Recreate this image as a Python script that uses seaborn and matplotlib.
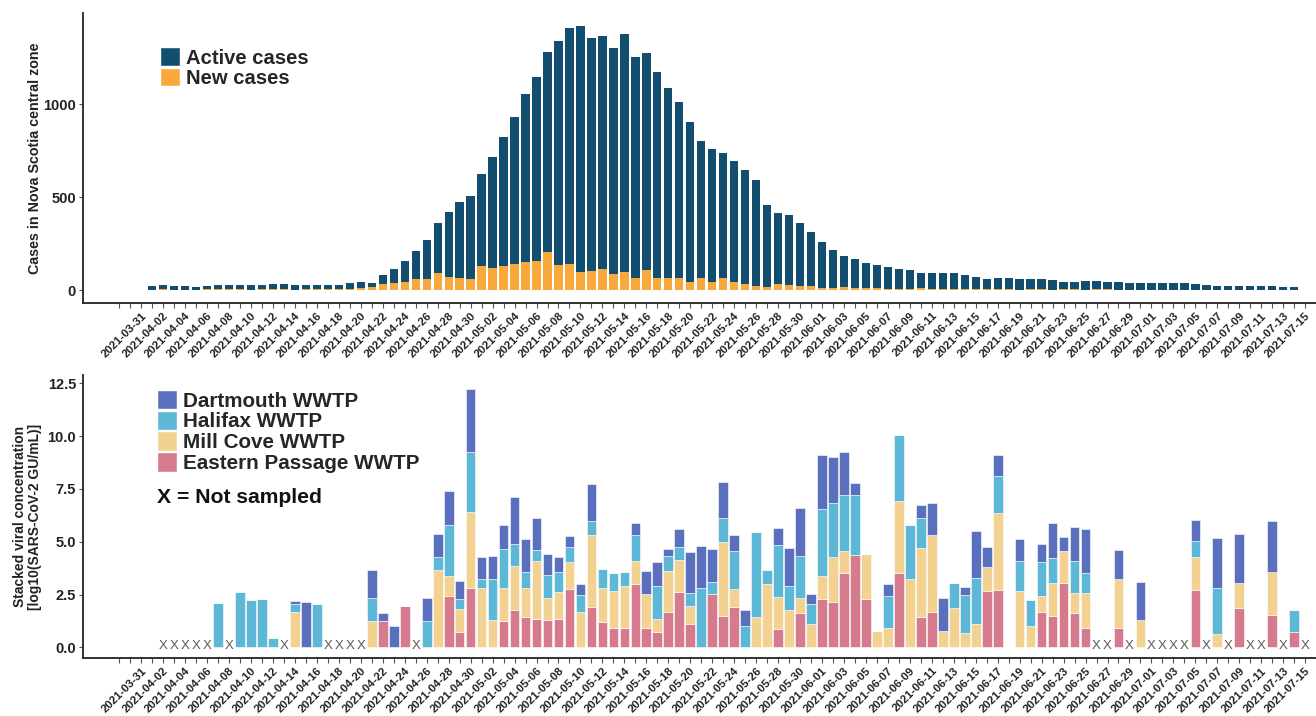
import numpy as np
import pandas as pd
import matplotlib
matplotlib.use("Agg")
import matplotlib.pyplot as plt
from matplotlib.patches import Patch
import seaborn as sns

nan = np.nan
start = pd.Timestamp("2021-03-31")

# ---- top panel: cases, 2021-04-01 .. 2021-07-14
case_dates = pd.date_range("2021-04-01", "2021-07-14")
active_cases = [
    21, 25, 21, 21, 18, 21, 25, 25, 27, 25, 27, 32, 32, 29, 29, 27, 25, 27, 36, 41,
    39, 79, 111, 154, 211, 269, 360, 421, 472, 508,                      # april
    623, 718, 825, 933, 1053, 1145, 1283, 1342, 1408, 1419, 1355, 1369, 1304, 1376,
    1252, 1274, 1173, 1085, 1014, 906, 802, 759, 739, 694, 646, 592, 457, 416, 404,
    359, 314,                                                            # may
    257, 215, 183, 165, 144, 135, 124, 115, 109, 93, 93, 93, 90, 79, 70, 57, 63, 66,
    61, 57, 57, 54, 43, 43, 50, 50, 45, 45, 39, 39,                      # june
    39, 39, 38, 38, 30, 29, 23, 22, 22, 22, 22, 22, 14, 14,              # july
]
new_cases = [
    2, 4, 1, 2, 0, 3, 4, 3, 5, 2, 4, 6, 3, 2, 3, 4, 3, 5, 8, 12,
    14, 32, 36, 45, 57, 57, 93, 72, 63, 57,
    131, 120, 131, 138, 151, 154, 203, 135, 138, 95, 102, 115, 84, 97, 66, 108, 66,
    66, 66, 41, 66, 45, 63, 45, 32, 23, 18, 32, 25, 22, 22,
    9, 13, 14, 11, 9, 10, 8, 7, 6, 9, 5, 4, 6, 3, 4, 6, 3, 5, 2, 4, 3, 2, 3, 5, 2,
    3, 4, 2, 1, 2,
    2, 1, 2, 0, 1, 1, 2, 0, 1, 0, 1, 0, 0, 1,
]

# ---- bottom panel: wastewater, 2021-04-02 .. 2021-07-15 (nan = no bar)
ww_dates = pd.date_range("2021-04-02", "2021-07-15")
eastern_passage = [
    nan, nan, nan, nan, nan, 0, nan, 0, 0, 0, 0, nan, 0, 0, 0, nan, nan, nan, nan,
    0, 1.25, 0, 1.95, nan, 0, 0, 2.41, 0.71, 2.83,
    0, 0, 1.25, 1.79, 1.44, 1.36, 1.28, 1.36, 2.75, 0, 1.90, 1.21, 0.90, 0.90, 3.02,
    0.93, 0.71, 1.70, 2.60, 1.13, 0, 2.52, 1.47, 1.90, 0, 0, 0, 0.87, 0, 1.64, 0,
    2.29, 2.17, 3.50, 4.35, 2.29, 0, 0, 3.50, 0, 1.44, 1.70, 0, 0, 0, 0, 2.68, 2.72,
    nan, 0, 0, 1.70, 1.47, 3.06, 1.62, 0.90, nan, nan, 0.90, nan, 0,
    nan, nan, nan, nan, 2.71, nan, 0, nan, 1.87, nan, nan, 1.55, nan, 0.74, nan,
]
mill_cove = [
    nan, nan, nan, nan, nan, 0, nan, 0, 0, 0, 0, nan, 1.67, 0, 0, nan, nan, nan, nan,
    1.25, 0, 0, 0, nan, 0, 3.68, 0.96, 1.11, 3.56,
    2.83, 1.31, 1.55, 2.04, 1.39, 2.71, 1.08, 1.24, 1.27, 1.67, 3.40, 1.62, 1.78, 2.01,
    1.05, 1.59, 0.65, 1.90, 1.52, 0.82, 0, 0, 3.50, 0.85, 0, 1.44, 2.99, 1.53, 1.75,
    0.68, 1.13,
    1.08, 2.13, 1.07, 0, 2.13, 0.77, 0.90, 3.43, 3.25, 3.25, 3.60, 0.77, 1.87, 0.70,
    1.13, 1.11, 3.63, nan, 2.65, 1.01, 0.71, 1.56, 1.50, 0.94, 1.67, nan, nan, 2.35,
    nan, 1.28,
    nan, nan, nan, nan, 1.55, nan, 0.62, nan, 1.19, nan, nan, 2.01, nan, 0, nan,
]
halifax = [
    nan, nan, nan, nan, nan, 2.10, nan, 2.60, 2.24, 2.29, 0.43, nan, 0.39, 0, 2.06,
    nan, nan, nan, nan, 1.08, 0, 0, 0, nan, 1.25, 0.62, 2.40, 0.46, 2.86,
    0.39, 1.93, 1.86, 1.05, 0.73, 0.54, 1.08, 0.96, 0.71, 0.80, 0.70, 0.88, 0.85, 0.65,
    1.24, 0, 1.55, 0.74, 0.62, 0.62, 2.83, 0.57, 1.16, 1.81, 1.02, 4.02, 0.67, 2.44,
    1.16, 2.01, 0.93,
    3.17, 2.52, 2.63, 2.85, 0, 0, 1.52, 3.12, 2.52, 1.42, 0, 0, 1.19, 1.78, 2.17, 0,
    1.78, nan, 1.45, 1.25, 1.61, 1.19, 0, 1.53, 0.93, nan, nan, 0, nan, 0,
    nan, nan, nan, nan, 0.77, nan, 2.17, nan, 0, nan, nan, 0, nan, 1.05, nan,
]
dartmouth = [
    nan, nan, nan, nan, nan, 0, nan, 0, 0, 0, 0, nan, 0.12, 2.13, 0, nan, nan, nan,
    nan, 1.35, 0.39, 1.02, 0, nan, 1.08, 1.08, 1.65, 0.85, 2.97,
    1.08, 1.10, 1.11, 2.23, 1.56, 1.52, 1.00, 0.71, 0.54, 0.51, 1.75, 0, 0, 0, 0.57,
    1.11, 1.13, 0.31, 0.85, 1.96, 1.96, 1.55, 1.70, 0.74, 0.73, 0, 0, 0.82, 1.78,
    2.26, 0.49,
    2.58, 2.18, 2.03, 0.56, 0, 0, 0.56, 0, 0, 0.62, 1.55, 1.59, 0, 0.36, 2.20, 0.97,
    0.96, nan, 1.01, 0, 0.85, 1.66, 0.67, 1.62, 2.09, nan, nan, 1.36, nan, 1.83,
    nan, nan, nan, nan, 1.01, nan, 2.40, nan, 2.32, nan, nan, 2.41, nan, 0, nan,
]
not_sampled = [
    "2021-04-02", "2021-04-03", "2021-04-04", "2021-04-05", "2021-04-06", "2021-04-08",
    "2021-04-13", "2021-04-17", "2021-04-18", "2021-04-19", "2021-04-20", "2021-04-25",
    "2021-06-26", "2021-06-27", "2021-06-29", "2021-07-01", "2021-07-02", "2021-07-03",
    "2021-07-04", "2021-07-06", "2021-07-08", "2021-07-10", "2021-07-11", "2021-07-13",
    "2021-07-15",
]

sites = ["Dartmouth WWTP", "Halifax WWTP", "Mill Cove WWTP", "Eastern Passage WWTP"]
site_colors = ["#5a70be", "#5cb8d6", "#f3d291", "#d67a8e"]
ACTIVE = "#124e70"
NEW = "#f9a83c"

sns.set_theme(style="ticks")
plt.rcParams["font.family"] = ["Liberation Sans", "DejaVu Sans"]
plt.rcParams["font.weight"] = "bold"

cases = pd.DataFrame({"day": (case_dates - start).days,
                      "active": active_cases, "new": new_cases})

ww = pd.DataFrame({"day": (ww_dates - start).days,
                   sites[0]: dartmouth, sites[1]: halifax,
                   sites[2]: mill_cove, sites[3]: eastern_passage})
ww = ww.melt(id_vars="day", var_name="site", value_name="value").dropna()

fig = plt.figure(figsize=(13.16, 7.16), dpi=100)
ax1 = fig.add_axes([0.0631, 0.5768, 0.937, 0.405])
ax2 = fig.add_axes([0.0631, 0.0810, 0.937, 0.3953])

# top: active cases with new cases drawn over them
sns.barplot(data=cases, x="day", y="active", native_scale=True, color=ACTIVE,
            saturation=1, width=0.76, errorbar=None, linewidth=0, ax=ax1)
sns.barplot(data=cases, x="day", y="new", native_scale=True, color=NEW,
            saturation=1, width=0.76, errorbar=None, linewidth=0, ax=ax1)

# bottom: stacked viral load per plant
sns.histplot(data=ww, x="day", weights="value", hue="site", hue_order=sites,
             palette=site_colors, multiple="stack", discrete=True, shrink=0.88,
             alpha=1, edgecolor="white", linewidth=0.4, legend=False, ax=ax2)

for d in (pd.to_datetime(not_sampled) - start).days:
    ax2.text(d, 0.05, "X", ha="center", va="center", fontsize=9.5,
             fontweight="normal", color="#5a5a5a")

all_days = np.arange(-2, 107)
day_labels = [(start + pd.Timedelta(days=int(d))).strftime("%Y-%m-%d")
              if d >= 0 and d % 2 == 0 else "" for d in all_days]

for ax in (ax1, ax2):
    ax.set_xlim(-5.3, 107.0)
    ax.set_xticks(all_days)
    ax.set_xticklabels(day_labels, rotation=45, ha="right", va="top",
                       rotation_mode="anchor", fontsize=8.2, fontweight="bold",
                       color="#222222")
    ax.tick_params(axis="x", length=3.5, width=0.8, color="#555555", pad=2)
    ax.tick_params(axis="y", length=3, width=0.8, color="#555555", labelsize=10.5,
                   labelcolor="#222222", pad=2)
    for s in ("top", "right"):
        ax.spines[s].set_visible(False)
    for s in ("left", "bottom"):
        ax.spines[s].set_linewidth(1.3)
        ax.spines[s].set_color("#222222")
    ax.set_xlabel("")
    for lab in ax.get_yticklabels():
        lab.set_fontweight("bold")

ax1.set_ylim(-70, 1491)
ax1.set_yticks([0, 500, 1000])
ax1.set_yticklabels(["0", "500", "1000"], fontweight="bold")
ax1.set_ylabel("Cases in Nova Scotia central zone", fontsize=10.3,
               fontweight="bold", labelpad=1, color="#222222")

ax2.set_ylim(-0.5, 12.89)
ax2.set_yticks([0, 2.5, 5, 7.5, 10, 12.5])
ax2.set_yticklabels(["0.0", "2.5", "5.0", "7.5", "10.0", "12.5"], fontweight="bold")
ax2.set_ylabel("Stacked viral concentration\n[log10(SARS-CoV-2 GU/mL)]",
               fontsize=10, fontweight="bold", labelpad=4, color="#222222",
               linespacing=1.1)

h1 = [Patch(facecolor=ACTIVE, label="Active cases"),
      Patch(facecolor=NEW, label="New cases")]
ax1.legend(handles=h1, loc="upper left", bbox_to_anchor=(0.0624, 0.882),
           frameon=False, borderpad=0, borderaxespad=0, labelspacing=0,
           handlelength=1.0, handleheight=1.05, handletextpad=0.3,
           prop={"size": 14.6, "weight": "bold"})

h2 = [Patch(facecolor=c, label=s) for s, c in zip(sites, site_colors)]
ax2.legend(handles=h2, loc="upper left", bbox_to_anchor=(0.06, 0.948),
           frameon=False, borderpad=0, borderaxespad=0, labelspacing=0,
           handlelength=0.97, handleheight=1.08, handletextpad=0.3,
           prop={"size": 14.9, "weight": "bold"})
ax2.text(0.06, 0.568, "X = Not sampled", transform=ax2.transAxes, ha="left",
         va="center", fontsize=15.2, fontweight="bold", color="#111111")

fig.savefig("out.png", dpi=100)
